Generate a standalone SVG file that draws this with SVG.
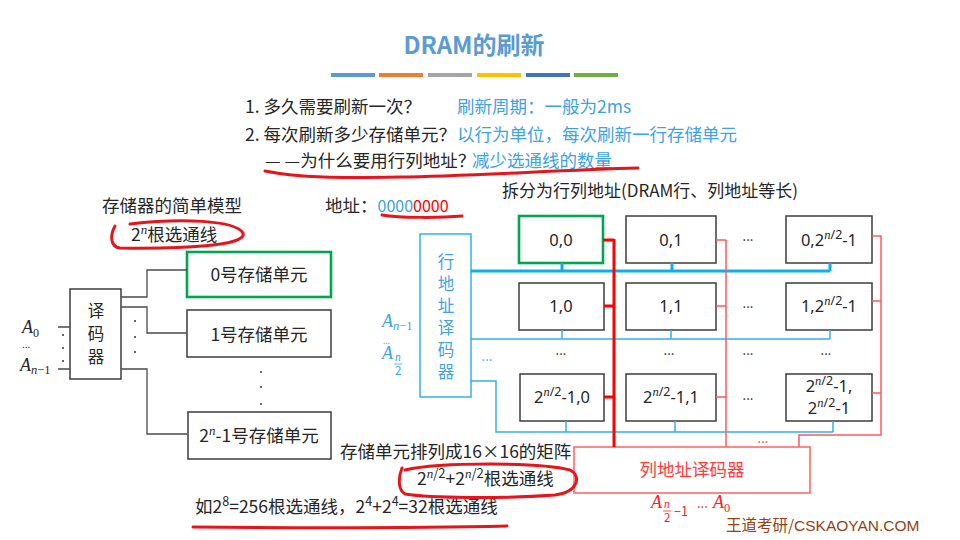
<svg xmlns="http://www.w3.org/2000/svg" width="960" height="540" viewBox="0 0 960 540">
  <style>
    text { font-family: "Noto Sans CJK SC", "Noto Sans", sans-serif; fill: #262626; }
    .t17 { font-size: 17.5px; }
    .v16 { font-size: 16.5px; text-anchor: middle; }
    .ans { fill: #3DA2E6; }
    .mi { font-family: "Liberation Serif", "DejaVu Serif", serif; font-style: italic; }
    .box { fill: #ffffff; stroke: #3c3c3c; stroke-width: 1.5; }
    .sel { fill: #ffffff; stroke: #00A650; stroke-width: 2.6; }
    .wire { fill: none; stroke: #4a4a4a; stroke-width: 1.3; }
    .bl { fill: none; stroke: #35B0EA; stroke-width: 1.5; }
    .blk { fill: none; stroke: #0FAEEC; stroke-width: 3; }
    .rd { fill: none; stroke: #FF5A5A; stroke-width: 1.5; }
    .rdk { fill: none; stroke: #FF0000; stroke-width: 3; }
    .ink { fill: none; stroke: #E8141C; stroke-width: 3; stroke-linecap: round; }
    .dot { fill: #333333; }
    .cell { font-size: 16.5px; text-anchor: middle; font-family: "Noto Sans", "Noto Sans CJK SC", sans-serif; }
    .sup { font-size: 12.5px; }
  </style>

  <!-- heading -->
  <g id="title">
    <text x="474" y="54" text-anchor="middle" font-size="24" font-weight="bold" style="fill:#5B9BD5">DRAM的刷新</text>
    <rect x="331" y="73" width="44" height="4" fill="#5B9BD5"/>
    <rect x="379" y="73" width="44" height="4" fill="#ED7D31"/>
    <rect x="428" y="73" width="44" height="4" fill="#A5A5A5"/>
    <rect x="477" y="73" width="44" height="4" fill="#FFC000"/>
    <rect x="526" y="73" width="44" height="4" fill="#4472C4"/>
    <rect x="574" y="73" width="44" height="4" fill="#70AD47"/>
  </g>

  <!-- questions -->
  <g id="questions" class="t17">
    <text x="245" y="113">1. 多久需要刷新一次？</text>
    <text x="457" y="113" class="ans">刷新周期：一般为2ms</text>
    <text x="245" y="141">2. 每次刷新多少存储单元？</text>
    <text x="457" y="141" class="ans">以行为单位，每次刷新一行存储单元</text>
    <text x="265" y="167">— —为什么要用行列地址？</text>
    <text x="472" y="167" class="ans">减少选通线的数量</text>
  </g>

  <!-- captions -->
  <g id="captions" class="t17">
    <text x="102" y="212">存储器的简单模型</text>
    <text x="325" y="212">地址：<tspan class="ans" font-size="16">0000</tspan><tspan font-size="16" style="fill:#FF0000">0000</tspan></text>
    <text x="131" y="241">2<tspan dy="-7" class="mi" font-size="13">n</tspan><tspan dy="7">根选通线</tspan></text>
    <text x="502" y="197" font-size="17">拆分为行列地址(DRAM行、列地址等长)</text>
    <text x="340" y="458">存储单元排列成16×16的矩阵</text>
    <text x="417" y="485">2<tspan dy="-7" font-size="13"><tspan class="mi">n</tspan>/2</tspan><tspan dy="7">+2</tspan><tspan dy="-7" font-size="13"><tspan class="mi">n</tspan>/2</tspan><tspan dy="7">根选通线</tspan></text>
    <text x="195" y="513">如2<tspan dy="-7" font-size="12.5">8</tspan><tspan dy="7">=256根选通线，2</tspan><tspan dy="-7" font-size="12.5">4</tspan><tspan dy="7">+2</tspan><tspan dy="-7" font-size="12.5">4</tspan><tspan dy="7">=32根选通线</tspan></text>
  </g>

  <!-- simple model: decoder and cells -->
  <g id="decoder">
    <rect x="70" y="289" width="51" height="90" class="box"/>
    <text x="96" y="317" class="v16">译</text>
    <text x="96" y="340" class="v16">码</text>
    <text x="96" y="363" class="v16">器</text>
  </g>
  <g id="inputs">
    <text x="22" y="333" class="mi" font-size="18">A<tspan font-size="12" dy="4" font-style="normal">0</tspan></text>
    <text x="22" y="348" font-size="10">...</text>
    <text x="20" y="371" class="mi" font-size="18">A<tspan font-size="12.5" dy="3">n</tspan><tspan font-size="12.5" font-style="normal">−1</tspan></text>
    <circle cx="63" cy="335" r="1" class="dot"/>
    <circle cx="63" cy="348" r="1" class="dot"/>
    <circle cx="63" cy="361" r="1" class="dot"/>
  </g>
  <g id="cell-0">
    <rect x="187" y="252" width="144" height="45" class="sel"/>
    <text x="259" y="281" class="t17" text-anchor="middle">0号存储单元</text>
  </g>
  <g id="cell-1">
    <rect x="187" y="310" width="144" height="47" class="box"/>
    <text x="259" y="341" class="t17" text-anchor="middle">1号存储单元</text>
  </g>
  <g id="cell-last">
    <rect x="188" y="412" width="143" height="47" class="box"/>
    <text x="259" y="442" class="t17" text-anchor="middle">2<tspan dy="-7" class="mi" font-size="13">n</tspan><tspan dy="7">-1号存储单元</tspan></text>
  </g>
  <g id="model-wires">
    <path d="M58 327 H70 M58 369 H70" class="wire"/>
    <path d="M121 297 H147 V270 H187" class="wire"/>
    <path d="M121 307 H147 V333 H187" class="wire"/>
    <path d="M121 369 H147 V434 H187" class="wire"/>
    <circle cx="135" cy="321" r="1" class="dot"/>
    <circle cx="135" cy="337" r="1" class="dot"/>
    <circle cx="135" cy="352" r="1" class="dot"/>
    <circle cx="261" cy="372" r="1" class="dot"/>
    <circle cx="261" cy="387" r="1" class="dot"/>
    <circle cx="261" cy="404" r="1" class="dot"/>
  </g>

  <!-- row address decoder -->
  <g id="row-decoder">
    <rect x="420" y="234" width="51" height="163" fill="#ffffff" stroke="#35B0EA" stroke-width="1.5"/>
    <text x="446" y="268" class="v16 ans">行</text>
    <text x="446" y="290" class="v16 ans">地</text>
    <text x="446" y="312" class="v16 ans">址</text>
    <text x="446" y="334" class="v16 ans">译</text>
    <text x="446" y="356" class="v16 ans">码</text>
    <text x="446" y="378" class="v16 ans">器</text>
    <text x="382" y="327" class="mi ans" font-size="18">A<tspan font-size="12.5" dy="3">n</tspan><tspan font-size="12.5" font-style="normal">−1</tspan></text>
    <text x="383" y="344" class="ans" font-size="8">...</text>
    <text x="382" y="359" class="mi ans" font-size="18">A</text>
    <text x="395" y="361" class="mi ans" font-size="11.5">n</text>
    <line x1="394" y1="364" x2="402" y2="364" stroke="#3DA2E6" stroke-width="0.8"/>
    <text x="395" y="375" class="ans" font-size="11.5">2</text>
  </g>

  <!-- column address decoder -->
  <g id="col-decoder">
    <rect x="574" y="447" width="236" height="46" fill="#ffffff" stroke="#FF6A6A" stroke-width="1.6"/>
    <text x="692" y="476" class="t17" text-anchor="middle" style="fill:#FF3B3B">列地址译码器</text>
    <text x="651" y="508" class="mi" font-size="18" style="fill:#FF2020">A</text>
    <text x="664" y="508" class="mi" font-size="11.5" style="fill:#FF2020">n</text>
    <line x1="663" y1="511" x2="671" y2="511" stroke="#FF2020" stroke-width="0.8"/>
    <text x="664" y="522" font-size="11.5" style="fill:#FF2020">2</text>
    <text x="674" y="516" font-size="12.5" style="fill:#FF2020">−1</text>
    <text x="697" y="508" font-size="13" style="fill:#FF2020">...</text>
    <text x="713" y="508" class="mi" font-size="18" style="fill:#FF2020">A<tspan font-size="12.5" dy="4" font-style="normal">0</tspan></text>
  </g>

  <!-- storage array -->
  <g id="cell-0-0">
    <rect x="519" y="216" width="84" height="47" class="sel"/>
    <text x="561" y="246" class="cell">0,0</text>
  </g>
  <g id="cell-0-1">
    <rect x="626" y="216" width="90" height="47" class="box"/>
    <text x="671" y="246" class="cell">0,1</text>
  </g>
  <g id="cell-0-n">
    <rect x="786" y="216" width="86" height="47" class="box"/>
    <text x="829" y="246" class="cell">0,2<tspan dy="-7" class="sup"><tspan class="mi">n</tspan>/2</tspan><tspan dy="7">-1</tspan></text>
  </g>
  <g id="cell-1-0">
    <rect x="519" y="283" width="85" height="47" class="box"/>
    <text x="561" y="312" class="cell">1,0</text>
  </g>
  <g id="cell-1-1">
    <rect x="626" y="283" width="90" height="47" class="box"/>
    <text x="671" y="312" class="cell">1,1</text>
  </g>
  <g id="cell-1-n">
    <rect x="786" y="283" width="86" height="47" class="box"/>
    <text x="829" y="312" class="cell">1,2<tspan dy="-7" class="sup"><tspan class="mi">n</tspan>/2</tspan><tspan dy="7">-1</tspan></text>
  </g>
  <g id="cell-n-0">
    <rect x="520" y="374" width="84" height="47" class="box"/>
    <text x="562" y="403" class="cell">2<tspan dy="-7" class="sup"><tspan class="mi">n</tspan>/2</tspan><tspan dy="7">-1,0</tspan></text>
  </g>
  <g id="cell-n-1">
    <rect x="626" y="374" width="90" height="47" class="box"/>
    <text x="671" y="403" class="cell">2<tspan dy="-7" class="sup"><tspan class="mi">n</tspan>/2</tspan><tspan dy="7">-1,1</tspan></text>
  </g>
  <g id="cell-n-n">
    <rect x="786" y="374" width="86" height="47" class="box"/>
    <text x="829" y="392" class="cell">2<tspan dy="-7" class="sup"><tspan class="mi">n</tspan>/2</tspan><tspan dy="7">-1,</tspan></text>
    <text x="829" y="414" class="cell">2<tspan dy="-7" class="sup"><tspan class="mi">n</tspan>/2</tspan><tspan dy="7">-1</tspan></text>
  </g>

  <!-- row and column select lines -->
  <g id="connectors">
    <path d="M471 271 H830 M562 263 V271 M672 263 V271 M830 263 V271" class="blk"/>
    <path d="M471 339 H830 M562 330 V339 M671 330 V339 M830 330 V339" class="bl"/>
    <path d="M471 381 H496 V432 H833 M566 421 V432 M675 421 V432 M833 421 V432" class="bl"/>
    <path d="M614 239 V447 M603 240 H614 M604 306 H614 M604 397 H614" class="rdk"/>
    <path d="M726 240 V447 M716 240 H726 M716 306 H726 M716 397 H726" class="rd"/>
    <path d="M872 236 H881 V435 H799 V447 M872 301 H881 M872 393 H881" class="rd"/>
  </g>

  <!-- ellipsis marks inside the array -->
  <g id="ellipses" font-size="13">
    <text x="748" y="241" text-anchor="middle">...</text>
    <text x="748" y="308" text-anchor="middle">...</text>
    <text x="748" y="400" text-anchor="middle">...</text>
    <text x="561" y="355" text-anchor="middle">...</text>
    <text x="669" y="355" text-anchor="middle">...</text>
    <text x="748" y="355" text-anchor="middle">...</text>
    <text x="826" y="355" text-anchor="middle">...</text>
    <text x="487" y="361" text-anchor="middle" class="ans">...</text>
    <text x="763" y="443" text-anchor="middle" style="fill:#FF3B3B">...</text>
  </g>

  <!-- hand-drawn red annotations -->
  <g id="annotations">
    <path d="M265 171 C300 178 340 178 400 177 C470 176 560 170 638 168" class="ink"/>
    <path d="M382 215 C400 218 440 218 462 216" class="ink"/>
    <path d="M130 224 C180 218 235 220 243 233 C248 246 180 249 120 248 C110 247 110 235 115 226" class="ink"/>
    <path d="M405 470 C440 462 540 462 570 470 C582 476 578 492 555 495 C500 499 430 498 405 494 C398 490 398 478 402 468" class="ink"/>
    <path d="M193 527 C300 528 420 528 507 526" class="ink"/>
  </g>

  <g id="logo">
    <text x="726" y="531" font-size="15.5" style="fill:#953F14">王道考研/<tspan font-family="Liberation Sans, sans-serif">CSKAOYAN.COM</tspan></text>
  </g>
</svg>
